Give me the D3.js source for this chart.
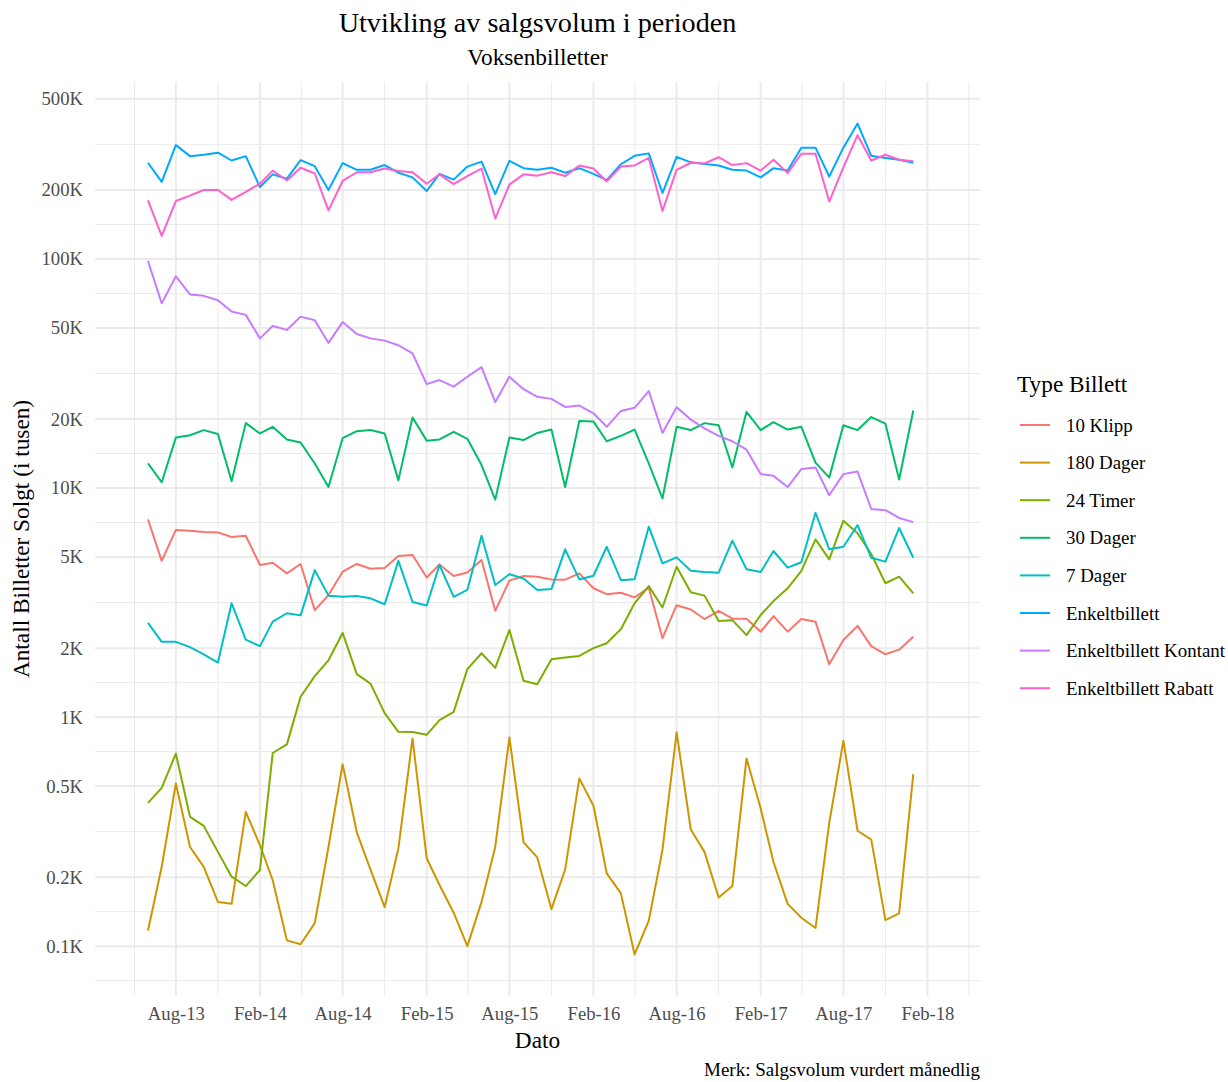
<!DOCTYPE html>
<html>
<head>
<meta charset="utf-8">
<script src="https://cdn.jsdelivr.net/npm/d3@7"></script>
<style>
  body { margin: 0; background: #ffffff; }
  text { font-family: "Liberation Serif", "Times New Roman", serif; }
</style>
</head>
<body>
<svg id="chart" width="1228" height="1082"></svg>
<script>
// Months covered by the sales data (first day of each month)
const months = [
  "2013-06","2013-07","2013-08","2013-09","2013-10","2013-11","2013-12",
  "2014-01","2014-02","2014-03","2014-04","2014-05","2014-06","2014-07","2014-08","2014-09","2014-10","2014-11","2014-12",
  "2015-01","2015-02","2015-03","2015-04","2015-05","2015-06","2015-07","2015-08","2015-09","2015-10","2015-11","2015-12",
  "2016-01","2016-02","2016-03","2016-04","2016-05","2016-06","2016-07","2016-08","2016-09","2016-10","2016-11","2016-12",
  "2017-01","2017-02","2017-03","2017-04","2017-05","2017-06","2017-07","2017-08","2017-09","2017-10","2017-11","2017-12",
  "2018-01"
];

// Monthly sales per ticket type, in thousands
const klipp10 = [7.30,4.81,6.56,6.51,6.42,6.40,6.11,6.19,4.61,4.72,4.24,4.66,2.93,3.41,4.31,4.66,4.44,4.47,5.05,5.10,4.07,4.64,4.13,4.28,4.85,2.91,3.94,4.13,4.10,3.99,3.98,4.24,3.65,3.44,3.49,3.33,3.67,2.21,3.08,2.95,2.68,2.91,2.69,2.69,2.36,2.76,2.36,2.68,2.61,1.70,2.17,2.50,2.04,1.88,1.97,2.24];
const dager180 = [0.117,0.222,0.513,0.271,0.222,0.156,0.153,0.386,0.276,0.194,0.106,0.102,0.126,0.271,0.623,0.314,0.216,0.148,0.267,0.807,0.242,0.185,0.140,0.100,0.156,0.271,0.815,0.284,0.244,0.145,0.216,0.540,0.410,0.208,0.170,0.092,0.129,0.263,0.858,0.323,0.258,0.163,0.183,0.660,0.399,0.233,0.153,0.133,0.120,0.345,0.788,0.319,0.292,0.130,0.139,0.564];
const timer24 = [0.422,0.491,0.692,0.367,0.335,0.258,0.201,0.183,0.215,0.697,0.760,1.227,1.51,1.77,2.33,1.54,1.40,1.04,0.862,0.860,0.837,0.970,1.054,1.62,1.90,1.64,2.40,1.44,1.39,1.79,1.82,1.85,2.00,2.10,2.42,3.14,3.73,3.01,4.53,3.51,3.39,2.63,2.65,2.28,2.79,3.21,3.65,4.35,5.97,4.88,7.20,6.34,5.15,3.84,4.10,3.47];
const dager30 = [12.8,10.6,16.6,17.0,17.9,17.2,10.7,19.2,17.3,18.5,16.3,15.8,12.8,10.1,16.5,17.7,17.9,17.3,10.8,20.3,16.1,16.3,17.6,16.4,12.6,8.9,16.6,16.2,17.4,18.0,10.1,19.6,19.5,16.0,16.9,18.0,12.8,9.0,18.5,17.9,19.2,18.8,12.3,21.5,17.9,19.4,18.0,18.5,12.9,11.1,18.8,17.9,20.4,19.1,10.9,21.8];
const dager7 = [2.58,2.13,2.13,2.02,1.88,1.73,3.14,2.18,2.04,2.61,2.84,2.78,4.38,3.39,3.35,3.38,3.30,3.11,4.81,3.18,3.07,4.61,3.35,3.59,6.19,3.77,4.20,4.03,3.59,3.62,5.40,3.99,4.14,5.54,3.96,4.00,6.78,4.69,4.98,4.35,4.30,4.27,5.89,4.42,4.30,5.31,4.49,4.74,7.80,5.40,5.54,6.89,4.96,4.77,6.69,4.96];
const enkeltbillett = [263,217,314,281,285,291,269,281,206,234,224,270,254,200,262,245,245,257,238,227,198,235,222,253,266,192,268,249,245,250,238,249,235,221,259,282,289,194,279,264,260,256,245,243,227,249,243,306,306,229,306,390,282,276,271,263];
const enkeltKontant = [98,64,84,70,69,66,59,57,45,51,49,56,54,43,53,47,45,44,42,38.7,28.4,29.6,27.7,30.6,33.7,23.7,30.6,27.0,25.0,24.5,22.6,22.9,21.2,18.5,21.7,22.4,26.5,17.4,22.5,19.9,18.2,16.9,16.0,14.7,11.5,11.3,10.1,12.1,12.3,9.3,11.5,11.8,8.1,8.0,7.4,7.1];
const enkeltRabatt = [180,126,179,189,200,200,181,196,213,243,220,250,236,163,219,239,239,248,242,239,213,234,212,230,248,150,211,234,231,239,230,256,248,218,253,256,276,162,245,263,261,278,257,262,243,271,237,288,288,178,251,347,269,285,271,267];

// Ticket type names (legend order) and the matching series
const seriesNames = ["10 Klipp","180 Dager","24 Timer","30 Dager","7 Dager","Enkeltbillett","Enkeltbillett Kontant","Enkeltbillett Rabatt"];
const seriesValues = [klipp10, dager180, timer24, dager30, dager7, enkeltbillett, enkeltKontant, enkeltRabatt];
const seriesColors = ["#F8766D","#CD9600","#7CAE00","#00BE67","#00BFC4","#00A9FF","#C77CFF","#FF61CC"];

// Axis breaks
const yTicks = [0.1,0.2,0.5,1,2,5,10,20,50,100,200,500];
const yTickLabels = ["0.1K","0.2K","0.5K","1K","2K","5K","10K","20K","50K","100K","200K","500K"];
const xTickLabels = ["Aug-13","Feb-14","Aug-14","Feb-15","Aug-15","Feb-16","Aug-16","Feb-17","Aug-17","Feb-18"];

const svg = d3.select("#chart");
const panel = { left: 95, right: 980, top: 82, bottom: 996 };

const parseMonth = d3.timeParse("%Y-%m");
const dates = months.map(parseMonth);

// x: time scale with padding around the data range
const padDays = 116;
const x = d3.scaleTime()
  .domain([d3.timeDay.offset(dates[0], -padDays), d3.timeDay.offset(dates[dates.length - 1], padDays + 30)])
  .range([panel.left, panel.right]);

// y: log scale, 5% expansion in log space
const allVals = seriesValues.flat();
const lmin = Math.log10(d3.min(allVals)), lmax = Math.log10(d3.max(allVals));
const lpad = (lmax - lmin) * 0.05;
const y = d3.scaleLog()
  .domain([Math.pow(10, lmin - lpad), Math.pow(10, lmax + lpad)])
  .range([panel.bottom, panel.top]);

const grid = svg.append("g");

// Horizontal minor grid: log-space midpoints between breaks (plus one step below)
const yExt = [yTicks[0] / 2, ...yTicks];
const yMinor = d3.pairs(yExt).map(([a, b]) => Math.sqrt(a * b))
  .filter(v => v >= y.domain()[0] && v <= y.domain()[1]);
grid.selectAll(".ymin").data(yMinor).join("line")
  .attr("x1", panel.left).attr("x2", panel.right)
  .attr("y1", d => y(d)).attr("y2", d => y(d))
  .attr("stroke", "#EBEBEB").attr("stroke-width", 1);

// Vertical grid: major every 6 months, minor halfway between
const xMajor = xTickLabels.map(s => d3.timeParse("%b-%y")(s));
const xExt = [d3.timeMonth.offset(xMajor[0], -6), ...xMajor, d3.timeMonth.offset(xMajor[xMajor.length - 1], 6)];
const xMinor = d3.pairs(xExt).map(([a, b]) => new Date((+a + +b) / 2))
  .filter(d => d >= x.domain()[0] && d <= x.domain()[1]);
grid.selectAll(".xmin").data(xMinor).join("line")
  .attr("x1", d => x(d)).attr("x2", d => x(d))
  .attr("y1", panel.top).attr("y2", panel.bottom)
  .attr("stroke", "#EBEBEB").attr("stroke-width", 1);

grid.selectAll(".ymaj").data(yTicks).join("line")
  .attr("x1", panel.left).attr("x2", panel.right)
  .attr("y1", d => y(d)).attr("y2", d => y(d))
  .attr("stroke", "#EBEBEB").attr("stroke-width", 2);
grid.selectAll(".xmaj").data(xMajor).join("line")
  .attr("x1", d => x(d)).attr("x2", d => x(d))
  .attr("y1", panel.top).attr("y2", panel.bottom)
  .attr("stroke", "#EBEBEB").attr("stroke-width", 2);

// Axes (labels only, no domain lines or tick marks)
const yAxis = svg.append("g")
  .attr("transform", `translate(${panel.left},0)`)
  .call(d3.axisLeft(y).tickValues(yTicks).tickFormat((d, i) => yTickLabels[i]).tickSize(0).tickPadding(12));
yAxis.select(".domain").remove();
yAxis.selectAll("text").attr("font-size", 18.7).attr("fill", "#4D4D4D")
  .attr("font-family", "Liberation Serif, serif");

const xAxis = svg.append("g")
  .attr("transform", `translate(0,${panel.bottom})`)
  .call(d3.axisBottom(x).tickValues(xMajor).tickFormat(d3.timeFormat("%b-%y")).tickSize(0).tickPadding(11));
xAxis.select(".domain").remove();
xAxis.selectAll("text").attr("font-size", 18.7).attr("fill", "#4D4D4D")
  .attr("font-family", "Liberation Serif, serif");

// Series lines
const line = d3.line().x((d, i) => x(dates[i])).y(d => y(d));
svg.append("g").selectAll("path").data(seriesValues).join("path")
  .attr("d", line)
  .attr("fill", "none")
  .attr("stroke", (d, i) => seriesColors[i])
  .attr("stroke-width", 2)
  .attr("stroke-linejoin", "round");

// Titles
const cx = (panel.left + panel.right) / 2;
svg.append("text").attr("x", cx).attr("y", 32).attr("text-anchor", "middle")
  .attr("font-size", 28.2).text("Utvikling av salgsvolum i perioden");
svg.append("text").attr("x", cx).attr("y", 65).attr("text-anchor", "middle")
  .attr("font-size", 23.3).text("Voksenbilletter");
svg.append("text").attr("x", cx).attr("y", 1048).attr("text-anchor", "middle")
  .attr("font-size", 23.3).text("Dato");
svg.append("text")
  .attr("transform", `translate(29,${(panel.top + panel.bottom) / 2}) rotate(-90)`)
  .attr("text-anchor", "middle").attr("font-size", 23.3)
  .text("Antall Billetter Solgt (i tusen)");
svg.append("text").attr("x", panel.right).attr("y", 1076).attr("text-anchor", "end")
  .attr("font-size", 19).text("Merk: Salgsvolum vurdert månedlig");

// Legend
const legend = svg.append("g").attr("transform", "translate(1017,0)");
legend.append("text").attr("x", 0).attr("y", 392).attr("font-size", 23.3).text("Type Billett");
const items = legend.selectAll(".item").data(seriesNames).join("g")
  .attr("transform", (d, i) => `translate(0,${425 + i * 37.6})`);
items.append("line").attr("x1", 3).attr("x2", 33).attr("y1", 0).attr("y2", 0)
  .attr("stroke", (d, i) => seriesColors[i]).attr("stroke-width", 2);
items.append("text").attr("x", 49).attr("y", 6.5).attr("font-size", 18.9).text(d => d);
</script>
</body>
</html>
